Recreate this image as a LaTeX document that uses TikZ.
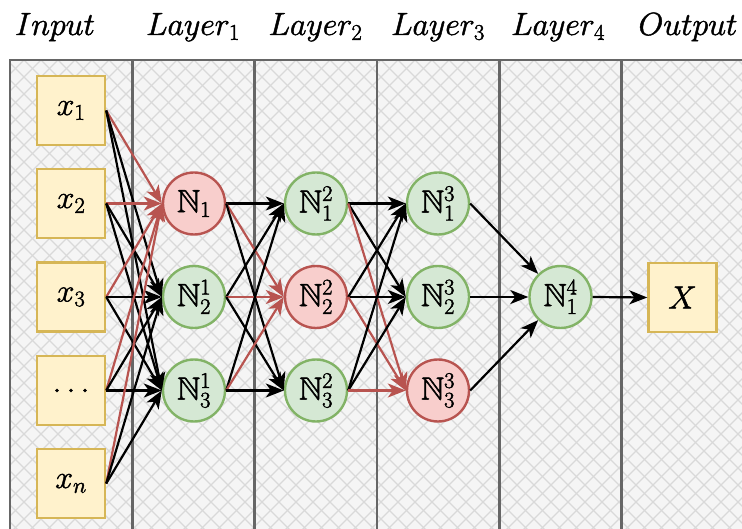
\RequirePackage{fix-cm}
\documentclass[tikz,border=0pt]{standalone}
\usepackage{amssymb}
\usetikzlibrary{arrows.meta}

\definecolor{inFill}{HTML}{FFF2CC}
\definecolor{inLine}{HTML}{D6B656}
\definecolor{redFill}{HTML}{F8CECC}
\definecolor{redLine}{HTML}{B85450}
\definecolor{greenFill}{HTML}{D5E8D4}
\definecolor{greenLine}{HTML}{82B366}
\definecolor{laneFill}{HTML}{F5F5F5}
\definecolor{laneLine}{HTML}{666666}
\definecolor{hatchLine}{HTML}{D9D9D9}

% slightly heavier glyphs: fill and stroke the text outlines
\newcommand{\heavytext}[1]{\special{pdf:code 2 Tr 0.45 w}#1\special{pdf:code 0 Tr}}

\tikzset{
  big/.style={font=\fontsize{32}{38}\selectfont},
  databox/.style={draw=inLine, fill=inFill, line width=2.4pt,
    minimum width=68pt, minimum height=69pt, inner sep=0pt, big},
  neuron/.style={circle, line width=2.4pt, minimum size=62pt, inner sep=0pt, big},
  hot/.style={neuron, draw=redLine, fill=redFill},
  cool/.style={neuron, draw=greenLine, fill=greenFill},
  wire/.style={line width=2.2pt, -{Stealth[length=18pt,width=14pt,inset=5pt]}},
  hotwire/.style={wire, color=redLine},
  header/.style={big, anchor=base, inner sep=0pt},
}

\begin{document}
\begin{tikzpicture}[x=1pt,y=-1pt]
  \useasboundingbox (0,0) rectangle (742,529);

  % lane background with cross hatching
  \begin{scope}
    \clip (10,60) rectangle (742,529);
    \fill[laneFill] (10,60) rectangle (760,540);
    \foreach \a in {-520,-503,...,1260} {
      \draw[hatchLine, line width=1.1pt] (\a,60) -- ++(480,480);
      \draw[hatchLine, line width=1.1pt] (\a,60) -- ++(-480,480);
    }
  \end{scope}

  % lane borders
  \draw[laneLine, line width=2.6pt] (10,540) -- (10,60) -- (760,60);
  \foreach \lx in {132.3,254.7,377,499.3,621.7} {
    \draw[laneLine, line width=2.6pt] (\lx,60) -- (\lx,540);
  }

  % column headers
  \node[header] (hIn)  at (55,35)  {\heavytext{$Input$}};
  \node[header] (hL1)  at (193,35) {\heavytext{$Layer_1$}};
  \node[header] (hL2)  at (315.5,35) {\heavytext{$Layer_2$}};
  \node[header] (hL3)  at (438,35) {\heavytext{$Layer_3$}};
  \node[header] (hL4)  at (558,35) {\heavytext{$Layer_4$}};
  \node[header] (hOut) at (688,35) {\heavytext{$Output$}};

  % input values
  \node[databox] (x1) at (71,110.5) {\heavytext{$x_1$}};
  \node[databox] (x2) at (71,203.5) {\heavytext{$x_2$}};
  \node[databox] (x3) at (71,297)   {\heavytext{$x_3$}};
  \node[databox] (xd) at (71,390.5) {\heavytext{$\dots$}};
  \node[databox] (xn) at (71,483.5) {\heavytext{$x_n$}};

  % layer 1
  \node[hot]  (n11) at (194,203.5) {\heavytext{$\mathbb{N}_1$}};
  \node[cool] (n12) at (194,297)   {\heavytext{$\mathbb{N}^1_2$}};
  \node[cool] (n13) at (194,390.5) {\heavytext{$\mathbb{N}^1_3$}};

  % layer 2
  \node[cool] (n21) at (316,203.5) {\heavytext{$\mathbb{N}^2_1$}};
  \node[hot]  (n22) at (316,297)   {\heavytext{$\mathbb{N}^2_2$}};
  \node[cool] (n23) at (316,390.5) {\heavytext{$\mathbb{N}^2_3$}};

  % layer 3
  \node[cool] (n31) at (438,203.5) {\heavytext{$\mathbb{N}^3_1$}};
  \node[cool] (n32) at (438,297)   {\heavytext{$\mathbb{N}^3_2$}};
  \node[hot]  (n33) at (438,390.5) {\heavytext{$\mathbb{N}^3_3$}};

  % layer 4 and output
  \node[cool] (n41) at (560.5,297) {\heavytext{$\mathbb{N}^4_1$}};
  \node[databox] (out) at (682.5,297.5) {\heavytext{$X$}};

  % input -> layer 1
  \foreach \s in {x1,x2,x3,xd,xn} {
    \draw[hotwire] (\s.east) -- (n11.west);
    \draw[wire] (\s.east) -- (n12.west);
    \draw[wire] (\s.east) -- (n13.west);
  }

  % layer 1 -> layer 2
  \foreach \s in {n11,n12,n13} {
    \draw[wire] (\s.east) -- (n21.west);
    \draw[hotwire] (\s.east) -- (n22.west);
    \draw[wire] (\s.east) -- (n23.west);
  }

  % layer 2 -> layer 3
  \foreach \s in {n21,n22,n23} {
    \draw[wire] (\s.east) -- (n31.west);
    \draw[wire] (\s.east) -- (n32.west);
    \draw[hotwire] (\s.east) -- (n33.west);
  }

  % layer 3 -> layer 4 -> output
  \foreach \s in {n31,n32,n33} {
    \draw[wire] (\s.east) -- (n41);
  }
  \draw[wire] (n41.east) -- (out.west);
\end{tikzpicture}
\end{document}
